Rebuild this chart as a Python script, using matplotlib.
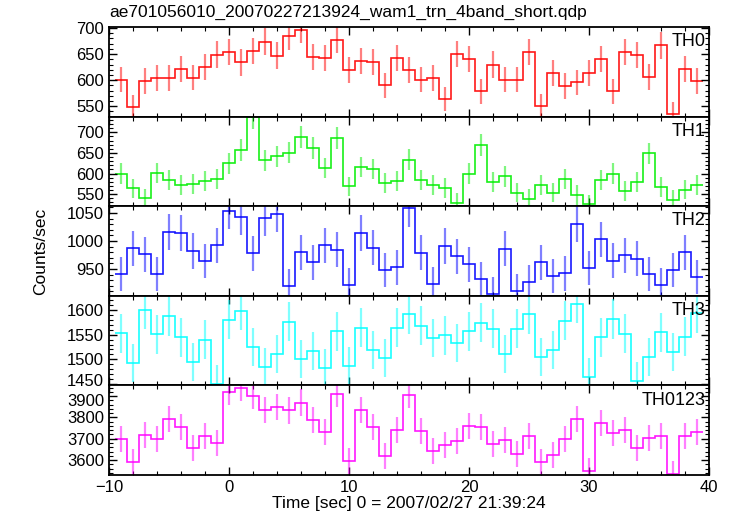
import numpy as np
import matplotlib
matplotlib.use("Agg")
import matplotlib.pyplot as plt
from matplotlib.ticker import MultipleLocator
from matplotlib.transforms import ScaledTranslation

plt.rcParams['font.family'] = ['Liberation Sans', 'DejaVu Sans']

time = np.arange(-9, 40)  # bin centres, 1 s bins

th0 = [601, 548, 598, 604, 604, 621, 605, 625, 649, 654, 634, 656, 674, 647, 684, 697,
       644, 642, 678, 620, 637, 635, 590, 642, 619, 601, 604, 564, 650, 641, 579, 630,
       601, 601, 654, 550, 613, 589, 596, 613, 641, 579, 654, 648, 606, 667, 535, 621, 598]
th1 = [600, 564, 540, 602, 585, 573, 574, 581, 588, 625, 657, 736, 632, 642, 650, 689,
       662, 613, 686, 569, 616, 611, 578, 583, 634, 585, 573, 565, 529, 600, 669, 580,
       593, 554, 539, 573, 554, 588, 548, 526, 585, 600, 558, 579, 649, 567, 537, 561, 573]
th2 = [941, 987, 976, 941, 1016, 1014, 982, 964, 992, 1054, 1042, 978, 1041, 1048, 920, 980,
       962, 992, 984, 921, 1014, 988, 948, 953, 1058, 979, 923, 991, 973, 958, 932, 905,
       986, 910, 927, 962, 937, 942, 1031, 952, 1003, 965, 974, 968, 941, 921, 948, 980, 936]
th3 = [1553, 1492, 1601, 1551, 1588, 1545, 1495, 1540, 1450, 1580, 1599, 1525, 1485, 1511,
       1576, 1501, 1517, 1482, 1557, 1487, 1564, 1519, 1503, 1564, 1592, 1568, 1543, 1549,
       1533, 1557, 1574, 1562, 1511, 1562, 1592, 1505, 1519, 1578, 1613, 1465, 1545, 1582,
       1552, 1456, 1504, 1555, 1515, 1546, 1594]
th0123 = [3697, 3591, 3717, 3700, 3794, 3756, 3656, 3711, 3680, 3919, 3938, 3900, 3835, 3849,
          3833, 3869, 3788, 3731, 3910, 3595, 3835, 3755, 3619, 3742, 3905, 3736, 3642, 3669,
          3689, 3758, 3755, 3677, 3695, 3628, 3713, 3591, 3624, 3700, 3791, 3551, 3775, 3727,
          3742, 3655, 3703, 3711, 3535, 3711, 3731]

series = [th0, th1, th2, th3, th0123]
names = ["TH0", "TH1", "TH2", "TH3", "TH0123"]
colors = ["#ff0000", "#00ee00", "#0000ff", "#00ffff", "#ff00ff"]
ylims = [(530, 702), (521, 738), (902, 1062), (1447, 1629), (3530, 3950)]
yticks = [[550, 600, 650, 700], [550, 600, 650, 700], [950, 1000, 1050],
          [1450, 1500, 1550, 1600], [3600, 3700, 3800, 3900]]
yminor = [10, 10, 10, 10, 20]

fig = plt.figure(figsize=(7.30, 5.16), dpi=100)
left, right = 109 / 730, 709 / 730
top, bottom = 1 - 27 / 516, 1 - 475 / 516
h = (top - bottom) / 5

edges = np.concatenate([time - 0.5, [time[-1] + 0.5]])
axes = []
for i, (vals, name, col) in enumerate(zip(series, names, colors)):
    ax = fig.add_axes([left, top - (i + 1) * h, right - left, h])
    axes.append(ax)
    v = np.asarray(vals, dtype=float)
    err = np.sqrt(v)
    ax.vlines(time, v - err, v + err, colors=col, alpha=0.5, lw=1.6)
    ax.stairs(v, edges, color=col, lw=1.2, alpha=0.9, baseline=None)
    ax.set_xlim(-10, 40)
    ax.set_ylim(*ylims[i])
    ax.set_yticks(yticks[i])
    ax.yaxis.set_minor_locator(MultipleLocator(yminor[i]))
    ax.xaxis.set_major_locator(MultipleLocator(10))
    ax.xaxis.set_minor_locator(MultipleLocator(2))
    ax.tick_params(which='both', direction='in', top=True, right=True, labelsize=12)
    ax.tick_params(which='major', length=6, width=1.0)
    ax.tick_params(which='minor', length=3, width=0.8)
    for sp in ax.spines.values():
        sp.set_linewidth(1.3)
    ax.text(0.995, 0.93, name, transform=ax.transAxes, ha='right', va='top', fontsize=13)
    if i < 4:
        ax.tick_params(labelbottom=False)

# nudge the two crowded tick labels apart (1450 in TH3, 3900 in TH0123)
lab = axes[3].get_yticklabels()[0]
lab.set_transform(lab.get_transform() + ScaledTranslation(0, 3.5 / 100, fig.dpi_scale_trans))
lab = axes[4].get_yticklabels()[-1]
lab.set_transform(lab.get_transform() + ScaledTranslation(0, -3.5 / 100, fig.dpi_scale_trans))

axes[-1].set_xlabel("Time [sec] 0 = 2007/02/27 21:39:24", fontsize=12.5, labelpad=1)
fig.text(0.055, (top + bottom) / 2, "Counts/sec", rotation=90, ha='center', va='center', fontsize=12.5)
fig.text(left, 1 - 12 / 516, "ae701056010_20070227213924_wam1_trn_4band_short.qdp",
         ha='left', va='center', fontsize=12.5)

fig.savefig("out.png", dpi=100)
